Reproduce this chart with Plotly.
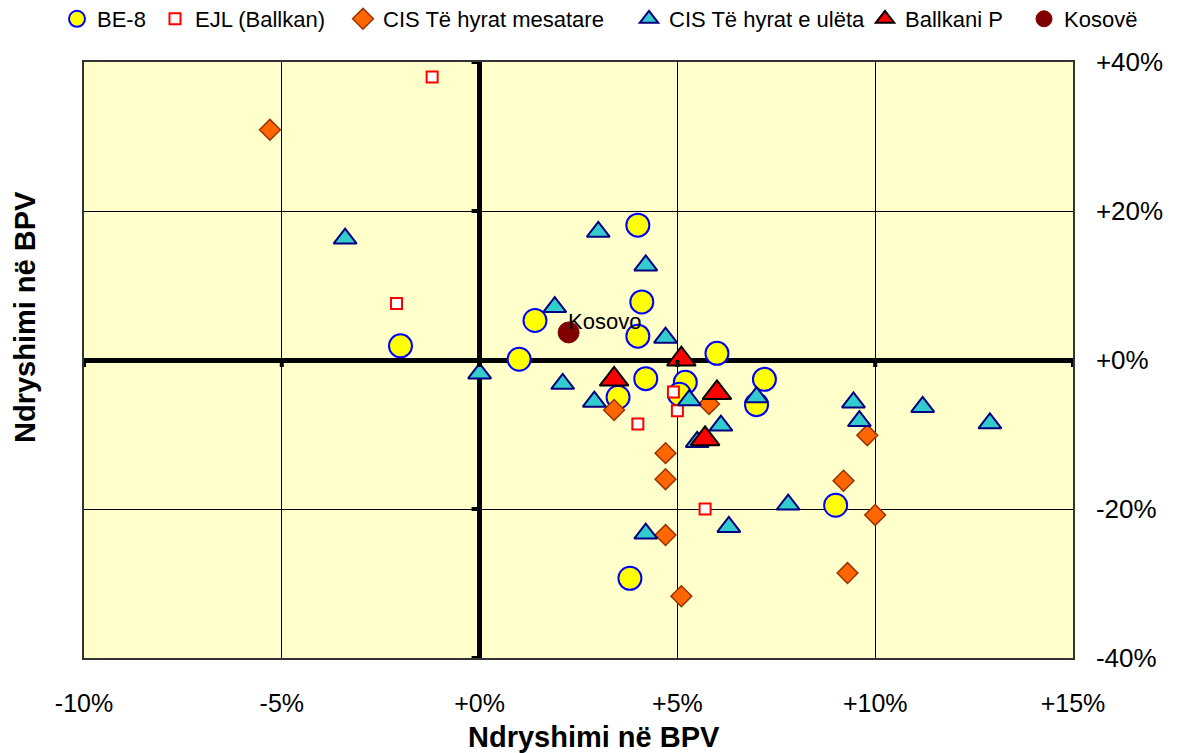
import plotly.graph_objects as go

# ---- data ----
be8_x = [-2.0, 1.0, 1.4, 4.0, 4.1, 4.0, 4.2, 3.5, 6.0, 5.2, 5.05, 7.2, 7.0, 9.0, 3.8]
be8_y = [1.9, 0.1, 5.3, 18.1, 7.8, 3.2, -2.5, -5.0, 0.9, -3.0, -4.6, -2.6, -6.0, -19.5, -29.3]

ejl_x = [-1.2, -2.1, 4.9, 5.0, 4.0, 5.7]
ejl_y = [38.0, 7.6, -4.3, -6.8, -8.6, -20.0]

cism_x = [-5.3, 3.4, 4.7, 4.7, 4.7, 5.1, 5.8, 9.8, 9.2, 10.0, 9.3]
cism_y = [30.9, -6.7, -12.5, -16.0, -23.5, -31.7, -5.9, -10.1, -16.2, -20.8, -28.6]

cisu_x = [-3.4, 0.0, 3.0, 4.2, 1.9, 4.7, 2.1, 2.9, 5.3, 6.1, 5.5, 7.0, 9.45, 9.6, 11.2, 12.9, 7.8, 4.2, 6.3]
cisu_y = [16.3, -1.8, 17.2, 12.7, 7.1, 3.0, -3.2, -5.6, -5.4, -8.8, -11.0, -5.0, -5.7, -8.2, -6.3, -8.5, -19.4, -23.3, -22.4]

bp_x = [3.4, 5.1, 6.0, 5.7]
bp_y = [-2.6, 0.1, -4.4, -10.6]

kos_x = [2.25]
kos_y = [3.7]
kos_label = "Kosovo"

series_names = ["BE-8", "EJL (Ballkan)", "CIS Të hyrat mesatare",
                "CIS Të hyrat e ulëta", "Ballkani P", "Kosovë"]

x_ticks = [-10, -5, 0, 5, 10, 15]
x_ticktext = ["-10%", "-5%", "+0%", "+5%", "+10%", "+15%"]
y_ticks = [-40, -20, 0, 20, 40]
y_ticktext = ["-40%", "-20%", "+0%", "+20%", "+40%"]
axis_title = "Ndryshimi në BPV"

FONT = "Arial, Liberation Sans, sans-serif"

W, H = 1183, 753
ML, MR, MT, MB = 84, 110, 62, 95
PW = W - ML - MR
PH = H - MT - MB

def px_to_paper_x(p):
    return (p - ML) / PW

def px_to_paper_y(p):
    return (H - MB - p) / PH

fig = go.Figure()

styles = [
    dict(x=be8_x, y=be8_y, symbol="circle", size=23, color="#FFFF00", lc="#0000FF", lw=2),
    dict(x=ejl_x, y=ejl_y, symbol="square", size=11, color="#FFFFFF", lc="#FF0000", lw=2),
    dict(x=cism_x, y=cism_y, symbol="diamond", size=16, color="#FF6600", lc="#993300", lw=1.5),
    dict(x=cisu_x, y=cisu_y, symbol="triangle-up", size=20, color="#33CCCC", lc="#000080", lw=2),
    dict(x=bp_x, y=bp_y, symbol="triangle-up", size=25, color="#FF0000", lc="#000000", lw=2),
    dict(x=kos_x, y=kos_y, symbol="circle", size=21, color="#800000", lc="#800000", lw=1),
]

legend_sym_px = [74, 172, 360, 646, 882, 1041]
legend_keys = ["legend", "legend2", "legend3", "legend4", "legend5", "legend6"]

for name, st, key in zip(series_names, styles, legend_keys):
    fig.add_trace(go.Scatter(
        x=st["x"], y=st["y"], mode="markers", name=name, legend=key,
        marker=dict(symbol=st["symbol"], size=st["size"], color=st["color"],
                    line=dict(color=st["lc"], width=st["lw"])),
        cliponaxis=False,
    ))

layout_legends = {}
for key, sx in zip(legend_keys, legend_sym_px):
    layout_legends[key] = dict(
        xref="container", yref="container",
        x=(sx - 17) / W, xanchor="left",
        y=1 - 19 / H, yanchor="middle",
        orientation="h", bgcolor="rgba(0,0,0,0)",
        font=dict(family=FONT, size=22, color="#000000"),
        itemwidth=30,
    )

# tick marks on the zero axes
shapes = []
for yv in y_ticks:
    shapes.append(dict(type="line", xref="x", yref="y", xsizemode="pixel", xanchor=0,
                       x0=-8, x1=0, y0=yv, y1=yv, line=dict(color="#000000", width=4)))
for xv in x_ticks:
    shapes.append(dict(type="line", xref="x", yref="y", ysizemode="pixel", yanchor=0,
                       y0=-7, y1=0, x0=xv, x1=xv, line=dict(color="#000000", width=4)))

fig.update_layout(
    width=W, height=H,
    margin=dict(l=ML, r=MR, t=MT, b=MB, pad=0, autoexpand=False),
    paper_bgcolor="#FFFFFF",
    plot_bgcolor="#FFFFCC",
    font=dict(family=FONT, size=25, color="#000000"),
    showlegend=True,
    shapes=shapes,
    **layout_legends,
)

fig.update_xaxes(
    range=[-10, 15], tickvals=x_ticks, ticktext=x_ticktext,
    showgrid=True, gridcolor="#000000", gridwidth=1,
    zeroline=True, zerolinecolor="#000000", zerolinewidth=4.5,
    showline=True, mirror=True, linecolor="#333333", linewidth=1.5,
    ticks="outside", ticklen=0, ticklabelstandoff=22,
    tickfont=dict(family=FONT, size=25, color="#000000"),
    fixedrange=True,
)
fig.update_yaxes(
    range=[-40, 40], tickvals=y_ticks, ticktext=y_ticktext, side="right",
    showgrid=True, gridcolor="#000000", gridwidth=1,
    zeroline=True, zerolinecolor="#000000", zerolinewidth=4.5,
    showline=True, mirror=True, linecolor="#333333", linewidth=1.5,
    ticks="outside", ticklen=0, ticklabelstandoff=16,
    tickfont=dict(family=FONT, size=26, color="#000000"),
    fixedrange=True,
)

fig.add_annotation(
    x=kos_x[0], y=kos_y[0], xref="x", yref="y", text=kos_label, showarrow=False,
    xanchor="left", yanchor="bottom", xshift=-3, yshift=-4,
    font=dict(family=FONT, size=22, color="#000000"),
)
fig.add_annotation(
    x=px_to_paper_x(594), y=px_to_paper_y(737), xref="paper", yref="paper",
    text="<b>" + axis_title + "</b>", showarrow=False, xanchor="center", yanchor="middle",
    font=dict(family=FONT, size=29, color="#000000"),
)
fig.add_annotation(
    x=px_to_paper_x(25), y=px_to_paper_y(317), xref="paper", yref="paper",
    text="<b>" + axis_title + "</b>", showarrow=False, xanchor="center", yanchor="middle",
    textangle=-90,
    font=dict(family=FONT, size=29, color="#000000"),
)

fig.write_html("out.html", config={"displayModeBar": False},
               post_script="document.body.style.margin='0';")
